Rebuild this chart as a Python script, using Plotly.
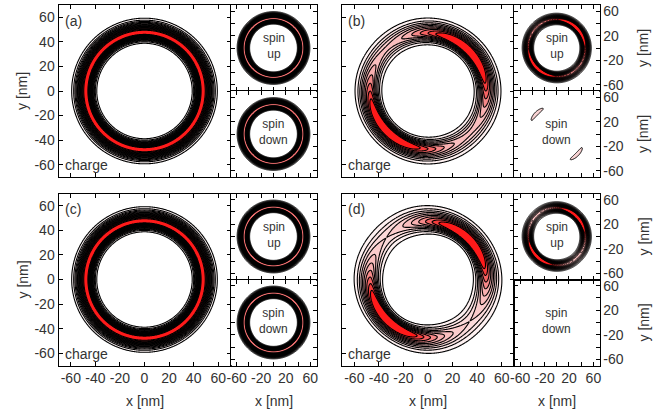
import numpy as np
import plotly.graph_objects as go

W, H = 664, 413

# ---------------- data / parameters ----------------
panel_names = ["(a)", "(b)", "(c)", "(d)"]
# charge density ring parameters per panel (nm, degrees)
charge_R_peak = [47.5, 46.0, 47.5, 46.0]
charge_R_off = [47.5, 48.0, 47.5, 48.0]
charge_w_in_peak = [5.0, 5.0, 5.0, 5.0]
charge_w_in_off = [5.0, 7.0, 5.0, 8.0]
charge_w_out_peak = [6.8, 7.8, 6.8, 8.0]
charge_w_out_off = [6.8, 8.0, 6.8, 9.0]
charge_modulation = [0.0, 0.6, 0.0, 0.7]
peak_angle_deg = [0.0, 45.0, 0.0, 45.0]
# spin-up density parameters per panel
up_R_peak = [47.5, 45.5, 47.5, 45.5]
up_R_off = [47.5, 47.0, 47.5, 47.5]
up_w_in = [5.0, 4.5, 5.0, 4.5]
up_w_in_off = [5.0, 6.0, 5.0, 6.5]
up_w_out = [6.8, 6.5, 6.8, 6.5]
up_modulation = [0.0, 0.45, 0.0, 0.6]
# spin-down density: rings in (a),(c); two small blobs in (b); none in (d)
down_kind = ["ring", "blobs", "ring", "none"]
down_blob_angle_deg = 135.0
down_blob_radius = 47.0
down_blob_level = 0.8

main_tickvals = [-60, -40, -20, 0, 20, 40, 60]
main_ticktext = ["-60", "-40", "-20", "0", "20", "40", "60"]
inset_tickvals = [-60, -40, -20, 0, 20, 40, 60]
inset_ticktext = ["-60", "", "-20", "", "20", "", "60"]
axis_range = [-70, 70]

# contour levels per panel (fraction of maximum)
level_start = [0.05, 0.06, 0.05, 0.06]
level_end = [0.92, 0.78, 0.92, 0.78]
level_size = [0.058, 0.08, 0.058, 0.08]

FONT = "Liberation Sans, Arial, Helvetica, sans-serif"
TXT = "#333333"

charge_scale = [[0, "#ffffff"], [0.07, "#fff6f6"], [0.33, "#fcd6d6"],
                [0.6, "#f8b0b0"], [0.78, "#f56a6a"], [0.9, "#f63c3c"],
                [1, "#ff1a1a"]]
inset_scale_ac = [[0, "#ffffff"], [0.5, "#f6c8c8"], [0.93, "#f09090"],
                  [1, "#f07070"]]
blob_scale = [[0, "#ffffff"], [0.5, "#ffffff"], [0.5, "#f8d2d2"], [1, "#f8d2d2"]]


def grid(n):
    g = np.linspace(axis_range[0], axis_range[1], n)
    X, Y = np.meshgrid(g, g)
    return g, X, Y


def ring_density(X, Y, Rp, Ro, wip, wio, wop, woo, mod, ang):
    r = np.hypot(X, Y)
    th = np.arctan2(Y, X)
    s = (1 - np.cos(2 * (th - np.radians(ang)))) / 2
    R = Rp + (Ro - Rp) * s
    w_in = wip + (wio - wip) * s
    w_out = wop + (woo - wop) * s
    w = np.where(r < R, w_in, w_out)
    A = 1 - mod * s
    return A * np.exp(-((r - R) / w) ** 2)


# ---------------- layout geometry (pixels) ----------------
col_x = [(58.5, 230.5, 316.5), (342.0, 514.0, 599.5)]
row_y = [(5.0, 91.0, 177.0), (193.5, 279.5, 365.5)]
panel_pos = [(0, 0), (1, 0), (0, 1), (1, 1)]  # (col,row) for a,b,c,d


def px_x(v):
    return v / W


def px_y(v):
    return 1 - v / H


fig = go.Figure()
layout = dict(width=W, height=H, margin=dict(l=0, r=0, t=0, b=0, pad=0),
              autosize=False,
              paper_bgcolor="white", plot_bgcolor="white", showlegend=False,
              font=dict(family=FONT, size=14, color=TXT))
annotations = []
ax_id = [0]


def new_axes(x0, x1, y0, y1, tickvals, ticktext, show_x, show_y, y_side):
    ax_id[0] += 1
    k = ax_id[0]
    sx = "" if k == 1 else str(k)
    common = dict(range=axis_range, showgrid=False, zeroline=False,
                  showline=True, linecolor="black", linewidth=1,
                  mirror="ticks", ticks="inside", ticklen=4, tickwidth=1,
                  tickcolor="black", tickmode="array", tickvals=tickvals,
                  ticktext=ticktext, tickfont=dict(family=FONT, size=14, color=TXT),
                  fixedrange=True, automargin=False)
    layout["xaxis" + sx] = dict(common, domain=[px_x(x0), px_x(x1)],
                                anchor="y" + sx, showticklabels=show_x)
    layout["yaxis" + sx] = dict(common, domain=[px_y(y1), px_y(y0)],
                                anchor="x" + sx, showticklabels=show_y,
                                side=y_side)
    return "x" + sx, "y" + sx


def add_contour(xa, ya, n, Z, scale, start, end, size, lw=1.0):
    g = np.linspace(axis_range[0], axis_range[1], n)
    fig.add_trace(go.Contour(x=g, y=g, z=Z, xaxis=xa, yaxis=ya,
                             contours=dict(start=start, end=end, size=size,
                                           coloring="fill"),
                             line=dict(color="black", width=lw, smoothing=1),
                             colorscale=scale, showscale=False,
                             hoverinfo="skip"))


def ann(text, x, y, size=14, xanchor="center", angle=0):
    annotations.append(dict(text=text, x=px_x(x), y=px_y(y), xref="paper",
                            yref="paper", xanchor=xanchor, yanchor="middle",
                            showarrow=False, textangle=angle,
                            font=dict(family=FONT, size=size, color=TXT)))


for i, name in enumerate(panel_names):
    c, r = panel_pos[i]
    mx0, mx1, ix1 = col_x[c]
    ty, my, by = row_y[r]
    bottom = (r == 1)
    left = (c == 0)
    ls, le, lz = level_start[i], level_end[i], level_size[i]

    # main charge panel
    xa, ya = new_axes(mx0, mx1, ty, by, main_tickvals, main_ticktext,
                      bottom, left, "left")
    n = 261
    g, X, Y = grid(n)
    Z = ring_density(X, Y, charge_R_peak[i], charge_R_off[i],
                     charge_w_in_peak[i], charge_w_in_off[i],
                     charge_w_out_peak[i], charge_w_out_off[i],
                     charge_modulation[i], peak_angle_deg[i])
    add_contour(xa, ya, n, Z, charge_scale, ls, le, lz, lw=1.1)

    # spin up inset
    xa, ya = new_axes(mx1, ix1, ty, my, inset_tickvals, inset_ticktext,
                      False, not left, "right")
    n2 = 161
    g, X, Y = grid(n2)
    Zu = ring_density(X, Y, up_R_peak[i], up_R_off[i], up_w_in[i], up_w_in_off[i],
                      up_w_out[i], up_w_out[i], up_modulation[i], peak_angle_deg[i])
    add_contour(xa, ya, n2, Zu, inset_scale_ac if left else charge_scale,
                ls, le, lz / 2, lw=0.8)

    # spin down inset
    xa, ya = new_axes(mx1, ix1, my, by, inset_tickvals, inset_ticktext,
                      bottom, not left, "right")
    if down_kind[i] == "ring":
        Zd = ring_density(X, Y, up_R_peak[i], up_R_peak[i], up_w_in[i], up_w_in[i],
                          up_w_out[i], up_w_out[i], 0.0, 0.0)
        add_contour(xa, ya, n2, Zd, inset_scale_ac, ls, le, lz / 2, lw=0.8)
    elif down_kind[i] == "blobs":
        rr = np.hypot(X, Y)
        th = np.arctan2(Y, X)
        Zd = np.abs(np.exp(-((rr - down_blob_radius) / 6.0) ** 2) *
                    np.cos(th - np.radians(down_blob_angle_deg)) ** 5)
        add_contour(xa, ya, n2, Zd, blob_scale, down_blob_level,
                    down_blob_level, 1.0, lw=1.0)
    else:
        fig.add_trace(go.Scatter(x=[None], y=[None], xaxis=xa, yaxis=ya,
                                 mode="markers", hoverinfo="skip"))

    # text labels
    ann(name, mx0 + 4, ty + 16, xanchor="left")
    ann("charge", mx0 + 4, by - 12, xanchor="left")
    icx = (mx1 + ix1) / 2
    ann("spin<br>up", icx, (ty + my) / 2 - 2, size=12)
    ann("spin<br>down", icx, (my + by) / 2 - 2, size=12)
    if left:
        ann("y [nm]", 22, (ty + by) / 2, angle=-90)
    else:
        for yc in [(ty + my) / 2, (my + by) / 2]:
            ann("y [nm]", 643, yc, angle=-90)
    if bottom:
        for xc in [(mx0 + mx1) / 2, icx]:
            ann("x [nm]", xc, 401)

layout["annotations"] = annotations
fig.update_layout(**layout)
fig.write_html("out.html", config={"displayModeBar": False},
               post_script="document.body.style.margin='0px';")
